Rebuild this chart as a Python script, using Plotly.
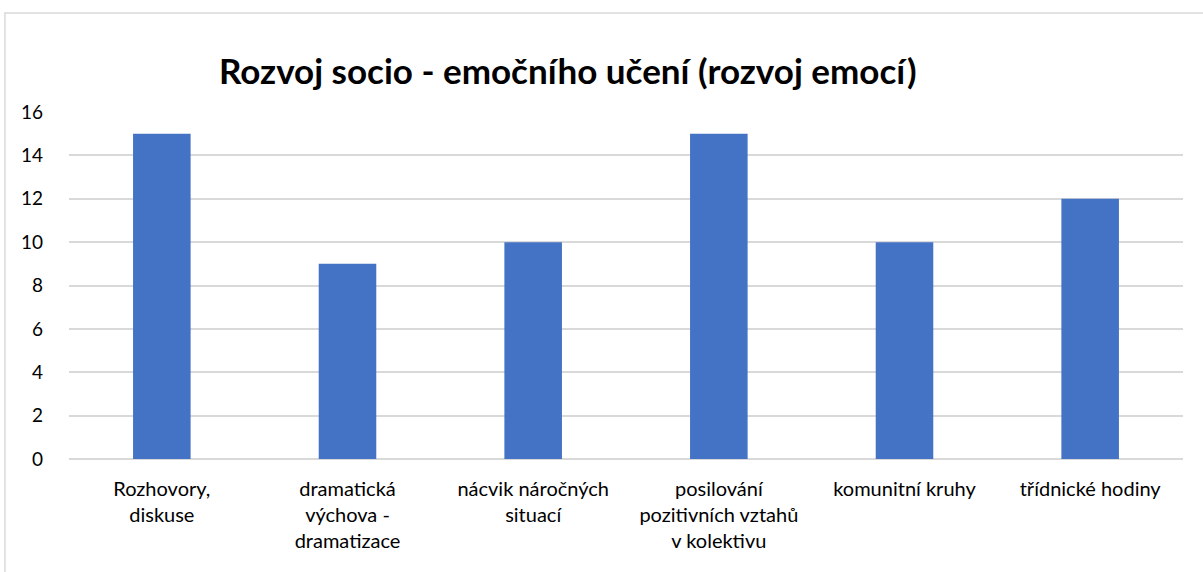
import plotly.graph_objects as go

# Data
kategorie = [
    "Rozhovory,<br>diskuse",
    "dramatická<br>výchova -<br>dramatizace",
    "nácvik náročných<br>situací",
    "posilování<br>pozitivních vztahů<br>v kolektivu",
    "komunitní kruhy",
    "třídnické hodiny",
]
pocty = [15, 9, 10, 15, 10, 12]
y_ticks = [0, 2, 4, 6, 8, 10, 12, 14, 16]

fig = go.Figure()
fig.add_trace(
    go.Bar(
        x=kategorie,
        y=pocty,
        marker_color="#4472C4",
        marker_line_width=0,
    )
)

fig.update_layout(
    width=1203,
    height=572,
    margin=dict(l=69, r=20, t=112, b=113),
    paper_bgcolor="white",
    plot_bgcolor="white",
    bargap=0.69,
    showlegend=False,
    font=dict(family="Lato, Open Sans, sans-serif", size=19, color="#000000"),
    title=dict(
        text="<b>Rozvoj socio - emočního učení (rozvoj emocí)</b>",
        x=0.472,
        xref="container",
        xanchor="center",
        y=0.874,
        yref="container",
        yanchor="middle",
        font=dict(size=35, family="Lato, Open Sans, sans-serif", color="#000000"),
    ),
    shapes=[
        dict(
            type="rect",
            xref="paper",
            yref="paper",
            x0=-0.0575,
            x1=1.5,
            y0=-2,
            y1=1.285,
            line=dict(color="#D9D9D9", width=1.5),
            layer="below",
        )
    ],
)

fig.update_xaxes(
    showgrid=False,
    showline=False,
    ticks="",
    tickangle=0,
    ticklabelstandoff=16,
    tickfont=dict(size=20),
)
fig.update_yaxes(
    range=[0, 16],
    tickvals=y_ticks,
    showgrid=True,
    gridcolor="#D9D9D9",
    gridwidth=1.5,
    zeroline=True,
    zerolinecolor="#D9D9D9",
    zerolinewidth=1.5,
    showline=False,
    ticks="",
    ticklabelstandoff=25,
    tickfont=dict(size=19),
)

# bez okraje stránky, aby graf začínal v rohu okna
fig.write_html(
    "out.html",
    config={"displayModeBar": False},
    post_script="document.body.style.margin='0px';",
)
